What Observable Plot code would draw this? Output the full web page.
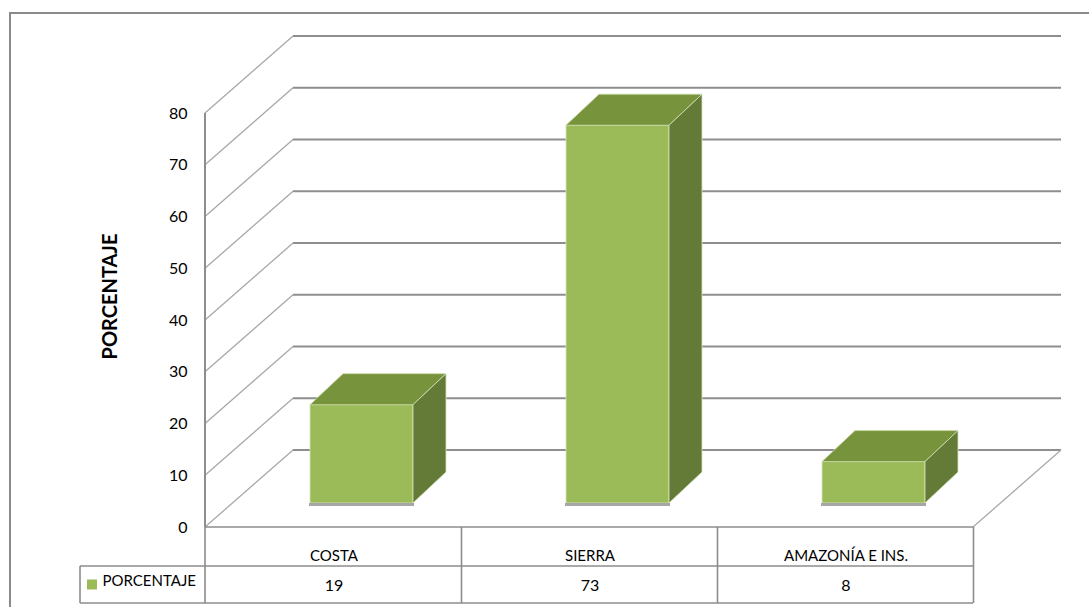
<!DOCTYPE html>
<html>
<head>
<meta charset="utf-8">
<script src="https://cdn.jsdelivr.net/npm/d3@7"></script>
<script src="https://cdn.jsdelivr.net/npm/@observablehq/plot@0.6"></script>
<style>
  html, body { margin: 0; padding: 0; background: white; }
  #chart svg { display: block; }
</style>
</head>
<body>
<div id="chart"></div>
<script>
// ---- data ----
const categories = ["COSTA", "SIERRA", "AMAZONÍA E INS."];
const values = [19, 73, 8];
const seriesName = "PORCENTAJE";
const yTicks = [0, 10, 20, 30, 40, 50, 60, 70, 80];
const yTitle = "PORCENTAJE";

// ---- style constants ----
const WALL = [88, -77];      // depth of back wall (px)
const BAR_OFF = [28, -24];   // offset of bar front face from front plane
const BAR_DEPTH = [33, -31]; // depth of each bar
const FRONT = "#9bbb59", TOP = "#77933c", SIDE = "#647a37";
const GRID = "#8e8e8e", DIAG = "#a8a8a8", TABLE = "#8c8c8c";

const rows = categories.map((c, i) => ({cat: c, value: values[i]}));

function el(name, attrs) {
  const e = document.createElementNS("http://www.w3.org/2000/svg", name);
  for (const k in attrs) e.setAttribute(k, attrs[k]);
  return e;
}

// back wall, floor and gridlines
function wallMark(index, scales, values, dim) {
  const {x, y} = scales;
  const g = el("g", {});
  const [x0, x1] = [dim.marginLeft, dim.width - dim.marginRight];
  for (const t of yTicks) {
    const py = y(t);
    g.appendChild(el("line", {x1: x0, y1: py, x2: x0 + WALL[0], y2: py + WALL[1], stroke: DIAG, "stroke-width": 1.3}));
    g.appendChild(el("line", {x1: x0 + WALL[0], y1: py + WALL[1], x2: x1 + WALL[0], y2: py + WALL[1], stroke: GRID, "stroke-width": 2}));
  }
  // floor right edge
  g.appendChild(el("line", {x1: x1, y1: y(0), x2: x1 + WALL[0], y2: y(0) + WALL[1], stroke: DIAG, "stroke-width": 1.3}));
  // front vertical axis
  g.appendChild(el("line", {x1: x0, y1: y(yTicks[yTicks.length - 1]), x2: x0, y2: y(0), stroke: GRID, "stroke-width": 2}));
  return g;
}

// top and side faces of each bar + shadow
function barFacesMark(index, scales, values, dim) {
  const {x, y} = scales;
  const bw = x.bandwidth();
  const g = el("g", {});
  for (const d of rows) {
    const l = x(d.cat) + BAR_OFF[0];
    const r = l + bw;
    const top = y(d.value) + BAR_OFF[1];
    const bot = y(0) + BAR_OFF[1];
    const [dx, dy] = BAR_DEPTH;
    g.appendChild(el("rect", {x: l - 1, y: bot, width: bw + 2, height: 3, fill: "#a6a6a6"}));
    g.appendChild(el("polygon", {points: `${l},${top} ${l + dx},${top + dy} ${r + dx},${top + dy} ${r},${top}`, fill: TOP, stroke: "#c9d8a6", "stroke-width": 0.8}));
    g.appendChild(el("polygon", {points: `${r},${top} ${r + dx},${top + dy} ${r + dx},${bot + dy} ${r},${bot}`, fill: SIDE, stroke: "#d6e2bd", "stroke-width": 0.8}));
  }
  return g;
}

// data table grid below the plot
function tableMark(index, scales, values, dim) {
  const {x, y} = scales;
  const g = el("g", {});
  const step = x.step();
  const bw = x.bandwidth();
  const x0 = dim.marginLeft, x1 = dim.width - dim.marginRight;
  const yTop = y(0), yMid = yTop + 39, yBot = yTop + 76;
  const legendLeft = x0 - 125;
  const L = (a, b, c, e) => g.appendChild(el("line", {x1: a, y1: b, x2: c, y2: e, stroke: TABLE, "stroke-width": 1.6}));
  L(x0, yTop, x1, yTop);
  L(legendLeft, yMid, x1, yMid);
  L(legendLeft, yBot, x1, yBot);
  L(legendLeft, yMid, legendLeft, yBot);
  const bounds = [x0, ...categories.map(c => x(c) + bw / 2 + step / 2)];
  for (const bx of bounds) L(bx, yTop, bx, yBot);
  // legend key
  g.appendChild(el("rect", {x: legendLeft + 7, y: (yMid + yBot) / 2 - 5, width: 10, height: 10, fill: FRONT}));
  // outer chart border
  g.appendChild(el("rect", {x: 10, y: 13, width: dim.width + 20, height: dim.height + 20, fill: "none", stroke: "#8a8a8a", "stroke-width": 2}));
  return g;
}

const chart = Plot.plot({
  width: 1089,
  height: 607,
  marginLeft: 205,
  marginRight: 116,
  marginTop: 113,
  marginBottom: 80,
  style: {fontFamily: "Lato, 'Open Sans', sans-serif", fontSize: "16px", color: "black", background: "white"},
  x: {domain: categories, paddingInner: 0.598, paddingOuter: 0.299, axis: null},
  y: {domain: [0, 80], ticks: yTicks, tickSize: 0, tickPadding: 18, label: null, tickFormat: d => String(d)},
  marks: [
    wallMark,
    Plot.barY(rows, {x: "cat", y: "value", fill: FRONT, dx: BAR_OFF[0], dy: BAR_OFF[1], stroke: "#d7e4bd", strokeWidth: 0.8}),
    barFacesMark,
    tableMark,
    Plot.text(rows, {x: "cat", y: () => 0, text: "cat", dy: 29, fontSize: 15}),
    Plot.text(rows, {x: "cat", y: () => 0, text: d => String(d.value), dy: 58, fontSize: 16}),
    Plot.text([seriesName], {frameAnchor: "bottom-left", dx: -103, dy: 58, textAnchor: "start", fontSize: 15}),
    Plot.text([yTitle], {frameAnchor: "left", textAnchor: "middle", rotate: -90, dx: -95, dy: -24, fontWeight: "bold", fontSize: 20, letterSpacing: 4})
  ]
});
document.getElementById("chart").appendChild(chart);
</script>
</body>
</html>
